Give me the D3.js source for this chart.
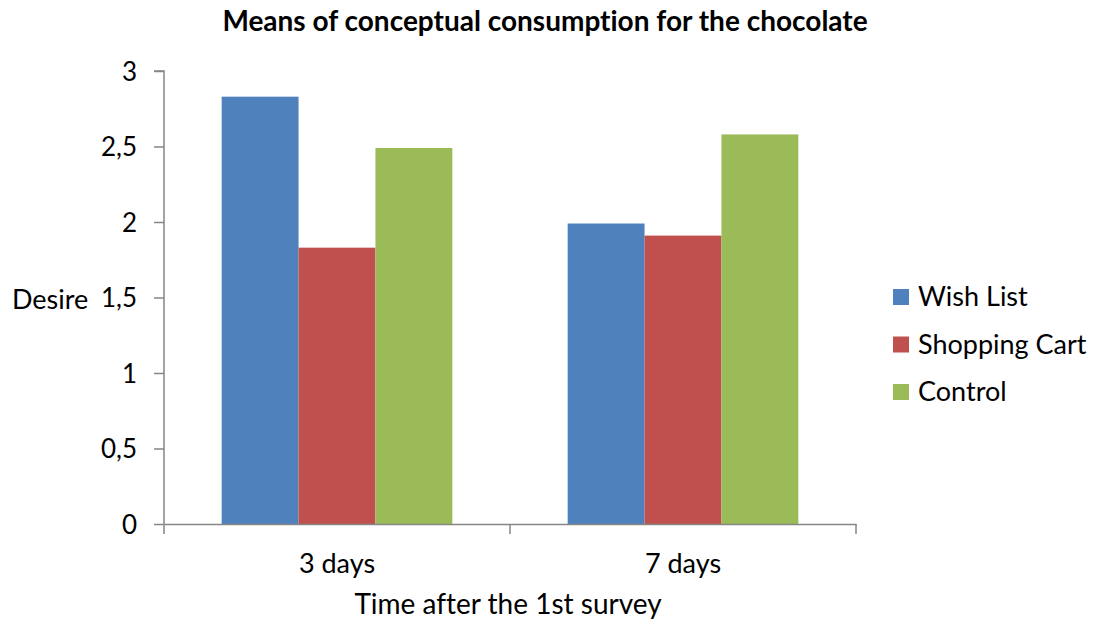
<!DOCTYPE html>
<html>
<head>
<meta charset="utf-8">
<script src="https://cdn.jsdelivr.net/npm/d3@7"></script>
<style>
  body { margin: 0; background: #fff; }
  svg text { font-family: Lato, "Liberation Sans", sans-serif; fill: #000; font-variant-ligatures: none; }
</style>
</head>
<body>
<svg id="chart" width="1093" height="619"></svg>
<script>
// Chart data
const categories = ["3 days", "7 days"];
const seriesNames = ["Wish List", "Shopping Cart", "Control"];
const wishList = [2.83, 1.99];
const shoppingCart = [1.83, 1.91];
const control = [2.49, 2.58];
const yTicks = [0, 0.5, 1, 1.5, 2, 2.5, 3];
const colors = ["#4f81bd", "#c0504d", "#9bbb59"];

const seriesValues = [wishList, shoppingCart, control];
const FONT = "Lato, 'Liberation Sans', sans-serif";

const svg = d3.select("#chart");
const margin = { left: 164, right: 856, top: 71, bottom: 524 };

const x0 = d3.scaleBand().domain(categories).range([margin.left, margin.right])
  .paddingInner(0).paddingOuter(0);
const x1 = d3.scaleBand().domain(seriesNames).range([0, x0.bandwidth()])
  .paddingInner(0).paddingOuter(0.75);
const y = d3.scaleLinear().domain([0, 3]).range([margin.bottom, margin.top]);

// Title
svg.append("text")
  .attr("x", 545).attr("y", 31)
  .attr("text-anchor", "middle")
  .attr("font-weight", "bold")
  .attr("font-size", 28)
  .text("Means of conceptual consumption for the chocolate");

// Bars
const groups = svg.append("g").selectAll("g")
  .data(categories)
  .join("g")
  .attr("transform", d => `translate(${x0(d)},0)`);

groups.selectAll("rect")
  .data((c, i) => seriesNames.map((s, j) => ({ s, v: seriesValues[j][i], j })))
  .join("rect")
  .attr("x", d => x1(d.s))
  .attr("width", x1.bandwidth())
  .attr("y", d => y(d.v))
  .attr("height", d => y(0) - y(d.v))
  .attr("fill", d => colors[d.j]);

// Y axis
const yAxis = d3.axisLeft(y)
  .tickValues(yTicks)
  .tickSize(10)
  .tickPadding(17)
  .tickFormat(d => String(d).replace(".", ","));
const gy = svg.append("g")
  .attr("transform", `translate(${margin.left},0)`)
  .call(yAxis);
gy.select(".domain").attr("stroke", "#868686").attr("stroke-width", 1.5)
  .attr("d", `M-10,${y(3)}H0V${y(0)}`);
gy.selectAll(".tick line").attr("stroke", "#868686").attr("stroke-width", 1.5);
gy.selectAll(".tick text").attr("font-size", 26).attr("fill", "#000")
  .attr("dy", "0.36em")
  .style("font-family", FONT);

// X axis
const xAxis = d3.axisBottom(x0).tickSize(0).tickPadding(30);
const gx = svg.append("g")
  .attr("transform", `translate(0,${margin.bottom})`)
  .call(xAxis);
gx.select(".domain").attr("stroke", "#868686").attr("stroke-width", 1.5);
gx.selectAll(".tick text").attr("font-size", 27).attr("fill", "#000")
  .style("font-family", FONT);
// Category dividers
const dividers = [margin.left, ...categories.map(c => x0(c) + x0.bandwidth())];
gx.selectAll("line.div")
  .data(dividers)
  .join("line")
  .attr("class", "div")
  .attr("x1", d => d).attr("x2", d => d)
  .attr("y1", 0).attr("y2", 10)
  .attr("stroke", "#868686").attr("stroke-width", 1.5);

// Axis titles
svg.append("text")
  .attr("x", 508).attr("y", 614)
  .attr("text-anchor", "middle")
  .attr("font-size", 28)
  .text("Time after the 1st survey");

svg.append("text")
  .attr("x", 12).attr("y", 309)
  .attr("font-size", 27)
  .text("Desire");

// Legend
const legend = svg.append("g").selectAll("g")
  .data(seriesNames)
  .join("g")
  .attr("transform", (d, i) => `translate(893,${297 + i * 47.5})`);
legend.append("rect")
  .attr("x", 0).attr("y", -8)
  .attr("width", 16).attr("height", 16)
  .attr("fill", (d, i) => colors[i]);
legend.append("text")
  .attr("x", 25).attr("y", 9)
  .attr("font-size", 27)
  .text(d => d);
</script>
</body>
</html>
